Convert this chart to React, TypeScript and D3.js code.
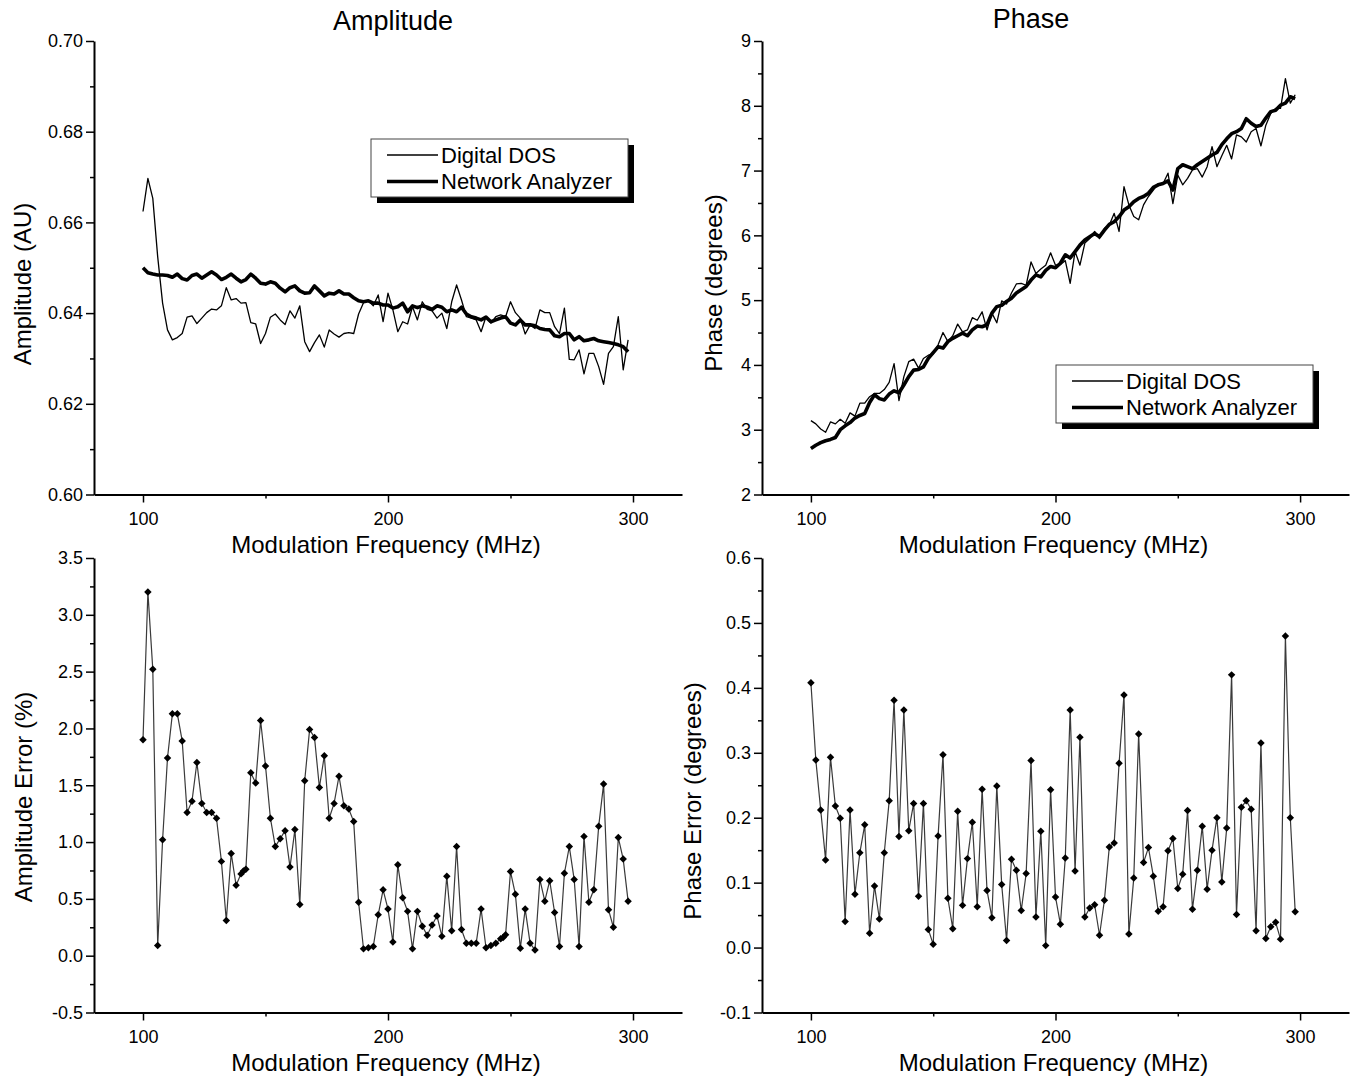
import React, { useEffect, useRef } from 'react';
import * as d3 from 'd3';

// modulation frequencies (MHz), 2 MHz grid
const freq = [
  100, 102, 104, 106, 108, 110, 112, 114, 116, 118, 120, 122, 124, 126, 128, 130, 132, 134, 136, 138,
  140, 142, 144, 146, 148, 150, 152, 154, 156, 158, 160, 162, 164, 166, 168, 170, 172, 174, 176, 178,
  180, 182, 184, 186, 188, 190, 192, 194, 196, 198, 200, 202, 204, 206, 208, 210, 212, 214, 216, 218,
  220, 222, 224, 226, 228, 230, 232, 234, 236, 238, 240, 242, 244, 246, 248, 250, 252, 254, 256, 258,
  260, 262, 264, 266, 268, 270, 272, 274, 276, 278, 280, 282, 284, 286, 288, 290, 292, 294, 296, 298,
];

const ampDos = [
  0.6624, 0.6697, 0.6653, 0.6524, 0.6422, 0.6363, 0.6341, 0.6346, 0.6355, 0.6391,
  0.6394, 0.6377, 0.6389, 0.6401, 0.6409, 0.6407, 0.6416, 0.6456, 0.6429, 0.6432,
  0.6422, 0.6423, 0.6379, 0.6376, 0.6333, 0.6355, 0.6391, 0.6398, 0.6385, 0.6375,
  0.6405, 0.6389, 0.6416, 0.6337, 0.6315, 0.6335, 0.6352, 0.6325, 0.6363, 0.6354,
  0.6347, 0.6355, 0.6357, 0.6355, 0.6398, 0.6423, 0.6427, 0.6416, 0.6440, 0.6381,
  0.6444, 0.6407, 0.6359, 0.6381, 0.6376, 0.6414, 0.6385, 0.6425, 0.6408, 0.6405,
  0.6389, 0.6400, 0.6366, 0.6425, 0.6462, 0.6429, 0.6392, 0.6389, 0.6385, 0.6359,
  0.6392, 0.6378, 0.6392, 0.6396, 0.6392, 0.6425, 0.6401, 0.6389, 0.6354, 0.6374,
  0.6366, 0.6407, 0.6401, 0.6401, 0.6370, 0.6355, 0.6411, 0.6298, 0.6297, 0.6319,
  0.6266, 0.6311, 0.6311, 0.6282, 0.6243, 0.6311, 0.6326, 0.6392, 0.6275, 0.6341,
];

const ampNa = [
  0.6500, 0.6489, 0.6486, 0.6484, 0.6484, 0.6483, 0.6479, 0.6486, 0.6476, 0.6473,
  0.6483, 0.6486, 0.6477, 0.6484, 0.6491, 0.6484, 0.6474, 0.6479, 0.6486, 0.6477,
  0.6469, 0.6474, 0.6486, 0.6477, 0.6466, 0.6464, 0.6469, 0.6466, 0.6455, 0.6447,
  0.6456, 0.6460, 0.6449, 0.6444, 0.6445, 0.6460, 0.6449, 0.6438, 0.6444, 0.6442,
  0.6449, 0.6442, 0.6442, 0.6434, 0.6427, 0.6425, 0.6427, 0.6422, 0.6422, 0.6418,
  0.6418, 0.6411, 0.6414, 0.6422, 0.6403, 0.6416, 0.6412, 0.6416, 0.6413, 0.6408,
  0.6416, 0.6413, 0.6403, 0.6407, 0.6403, 0.6413, 0.6398, 0.6392, 0.6389, 0.6385,
  0.6391, 0.6381, 0.6385, 0.6389, 0.6392, 0.6378, 0.6374, 0.6385, 0.6374, 0.6374,
  0.6372, 0.6366, 0.6364, 0.6363, 0.6350, 0.6348, 0.6355, 0.6355, 0.6341, 0.6348,
  0.6339, 0.6341, 0.6344, 0.6339, 0.6337, 0.6335, 0.6333, 0.6330, 0.6326, 0.6315,
];

const phaseDos = [
  3.14, 3.09, 3.01, 2.96, 3.12, 3.09, 3.16, 3.10, 3.26, 3.21,
  3.41, 3.41, 3.51, 3.56, 3.56, 3.62, 3.73, 4.02, 3.45, 3.82,
  4.05, 4.09, 3.95, 4.10, 4.15, 4.17, 4.31, 4.50, 4.36, 4.45,
  4.63, 4.51, 4.54, 4.73, 4.69, 4.82, 4.54, 4.80, 4.65, 4.99,
  4.94, 5.11, 5.25, 5.26, 5.23, 5.59, 5.41, 5.48, 5.54, 5.73,
  5.54, 5.55, 5.61, 5.26, 5.75, 5.54, 5.88, 5.95, 6.06, 5.95,
  6.11, 6.16, 6.34, 6.06, 6.75, 6.47, 6.29, 6.24, 6.47, 6.60,
  6.70, 6.80, 6.80, 6.96, 6.49, 6.93, 6.78, 6.88, 7.01, 7.03,
  6.90, 7.06, 7.37, 7.06, 7.23, 7.39, 7.18, 7.55, 7.52, 7.44,
  7.60, 7.65, 7.38, 7.70, 7.88, 7.96, 7.96, 8.42, 8.04, 8.17,
];

const phaseNa = [
  2.71, 2.76, 2.80, 2.83, 2.85, 2.88, 3.00, 3.06, 3.11, 3.18,
  3.22, 3.25, 3.42, 3.54, 3.48, 3.46, 3.55, 3.60, 3.57, 3.69,
  3.82, 3.92, 3.93, 3.97, 4.10, 4.19, 4.28, 4.26, 4.36, 4.41,
  4.45, 4.49, 4.45, 4.54, 4.60, 4.59, 4.62, 4.80, 4.90, 4.92,
  4.98, 5.03, 5.11, 5.16, 5.21, 5.31, 5.39, 5.36, 5.46, 5.52,
  5.50, 5.57, 5.70, 5.65, 5.75, 5.85, 5.93, 5.98, 6.03, 5.98,
  6.08, 6.17, 6.21, 6.29, 6.39, 6.44, 6.52, 6.57, 6.60, 6.65,
  6.74, 6.78, 6.80, 6.84, 6.70, 7.03, 7.09, 7.06, 7.03, 7.09,
  7.14, 7.19, 7.24, 7.28, 7.40, 7.49, 7.57, 7.60, 7.65, 7.80,
  7.73, 7.68, 7.70, 7.81, 7.91, 7.93, 8.01, 8.04, 8.14, 8.11,
];

// amplitude error has two extra readings (141, 247 MHz)
const ampErrFreq = [
  100, 102, 104, 106, 108, 110, 112, 114, 116, 118, 120, 122, 124, 126, 128, 130, 132, 134, 136, 138,
  140, 141, 142, 144, 146, 148, 150, 152, 154, 156, 158, 160, 162, 164, 166, 168, 170, 172, 174, 176, 178,
  180, 182, 184, 186, 188, 190, 192, 194, 196, 198, 200, 202, 204, 206, 208, 210, 212, 214, 216, 218,
  220, 222, 224, 226, 228, 230, 232, 234, 236, 238, 240, 242, 244, 246, 247, 248, 250, 252, 254, 256, 258,
  260, 262, 264, 266, 268, 270, 272, 274, 276, 278, 280, 282, 284, 286, 288, 290, 292, 294, 296, 298,
];

const ampErr = [
  1.90, 3.20, 2.52, 0.09, 1.02, 1.74, 2.13, 2.13, 1.89, 1.26, 1.36, 1.70, 1.34, 1.26, 1.26, 1.21, 0.83, 0.31, 0.90, 0.62,
  0.72, 0.745, 0.76, 1.61, 1.52, 2.07, 1.67, 1.21, 0.96, 1.03, 1.10, 0.78, 1.11, 0.45, 1.54, 1.99, 1.92, 1.48, 1.76, 1.21, 1.34,
  1.58, 1.32, 1.29, 1.18, 0.47, 0.06, 0.07, 0.08, 0.36, 0.58, 0.41, 0.12, 0.80, 0.51, 0.39, 0.06, 0.39, 0.26, 0.18, 0.27,
  0.35, 0.17, 0.70, 0.22, 0.96, 0.23, 0.11, 0.11, 0.11, 0.41, 0.07, 0.09, 0.11, 0.15, 0.16, 0.185, 0.74, 0.54, 0.065, 0.41, 0.11,
  0.05, 0.67, 0.48, 0.66, 0.38, 0.08, 0.725, 0.96, 0.67, 0.08, 1.05, 0.47, 0.58, 1.14, 1.51, 0.405, 0.25, 1.04, 0.85, 0.48,
];

const phaseErr = [
  0.408, 0.289, 0.212, 0.135, 0.293, 0.218, 0.199, 0.040, 0.212, 0.082,
  0.146, 0.189, 0.022, 0.095, 0.044, 0.146, 0.226, 0.381, 0.171, 0.366,
  0.180, 0.222, 0.079, 0.222, 0.028, 0.005, 0.172, 0.297, 0.076, 0.029,
  0.210, 0.065, 0.137, 0.193, 0.063, 0.244, 0.088, 0.046, 0.249, 0.097,
  0.011, 0.136, 0.119, 0.057, 0.114, 0.288, 0.047, 0.179, 0.003, 0.243,
  0.078, 0.036, 0.138, 0.366, 0.118, 0.324, 0.047, 0.061, 0.066, 0.019,
  0.073, 0.155, 0.161, 0.284, 0.389, 0.021, 0.107, 0.329, 0.131, 0.154,
  0.110, 0.056, 0.063, 0.149, 0.168, 0.091, 0.113, 0.211, 0.059, 0.119,
  0.187, 0.090, 0.150, 0.200, 0.101, 0.184, 0.420, 0.051, 0.216, 0.226,
  0.213, 0.026, 0.315, 0.014, 0.032, 0.039, 0.013, 0.480, 0.200, 0.055,
];

const xTicks = [100, 200, 300];
const xMinor = [150, 250];
const ampTicks = [0.6, 0.62, 0.64, 0.66, 0.68, 0.7];
const ampMinor = [0.61, 0.63, 0.65, 0.67, 0.69];
const phaseTicks = [2, 3, 4, 5, 6, 7, 8, 9];
const phaseMinor = [2.5, 3.5, 4.5, 5.5, 6.5, 7.5, 8.5];
const ampErrTicks = [-0.5, 0, 0.5, 1, 1.5, 2, 2.5, 3, 3.5];
const ampErrMinor = [-0.25, 0.25, 0.75, 1.25, 1.75, 2.25, 2.75, 3.25];
const phaseErrTicks = [-0.1, 0, 0.1, 0.2, 0.3, 0.4, 0.5, 0.6];
const phaseErrMinor = [-0.05, 0.05, 0.15, 0.25, 0.35, 0.45, 0.55];
const legendLabels = ['Digital DOS', 'Network Analyzer'];

const FONT = '"Liberation Sans", Arial, sans-serif';
const W = 1358;
const H = 1079;

export default function App() {
  const svgRef = useRef<SVGSVGElement>(null);

  useEffect(() => {
    if (!svgRef.current) return;
    document.body.style.margin = '0';

    const svg = d3.select(svgRef.current);
    svg.selectAll('*').remove();

    const xLeft = d3.scaleLinear().domain([80, 320]).range([94, 682]);
    const xRight = d3.scaleLinear().domain([80, 320]).range([762, 1349]);
    const topRange: [number, number] = [494.5, 41];
    const botRange: [number, number] = [1012.5, 558];

    const panels = [
      {
        x: xLeft, y: d3.scaleLinear().domain([0.6, 0.7]).range(topRange),
        ticks: ampTicks, minor: ampMinor, fmt: (d: number) => d.toFixed(2),
        yTitle: 'Amplitude (AU)', yTitlePos: [30.5, 284], xTitleY: 553,
        title: 'Amplitude', titlePos: [393, 30],
        lines: [ampDos, ampNa], legend: [371, 139],
      },
      {
        x: xRight, y: d3.scaleLinear().domain([2, 9]).range(topRange),
        ticks: phaseTicks, minor: phaseMinor, fmt: (d: number) => String(d),
        yTitle: 'Phase (degrees)', yTitlePos: [721.5, 283], xTitleY: 553,
        title: 'Phase', titlePos: [1031, 28],
        lines: [phaseDos, phaseNa], legend: [1056, 365],
      },
      {
        x: xLeft, y: d3.scaleLinear().domain([-0.5, 3.5]).range(botRange),
        ticks: ampErrTicks, minor: ampErrMinor, fmt: (d: number) => d.toFixed(1),
        yTitle: 'Amplitude Error (%)', yTitlePos: [31.5, 797], xTitleY: 1071,
        points: { xs: ampErrFreq, ys: ampErr },
      },
      {
        x: xRight, y: d3.scaleLinear().domain([-0.1, 0.6]).range(botRange),
        ticks: phaseErrTicks, minor: phaseErrMinor, fmt: (d: number) => d.toFixed(1),
        yTitle: 'Phase Error (degrees)', yTitlePos: [701, 801], xTitleY: 1071,
        points: { xs: freq, ys: phaseErr },
      },
    ];

    panels.forEach((p: any) => {
      const [x0] = p.x.range();
      const y0 = p.y.range()[0];
      const g = svg.append('g');

      // y axis
      const yAxis = g.append('g')
        .attr('transform', `translate(${x0},0)`)
        .call(d3.axisLeft(p.y).tickValues(p.ticks).tickSize(8).tickPadding(3).tickSizeOuter(0).tickFormat(p.fmt));
      g.append('g')
        .attr('transform', `translate(${x0},0)`)
        .call(d3.axisLeft(p.y).tickValues(p.minor).tickSize(4).tickFormat(() => ''))
        .select('.domain').remove();

      // x axis
      const xAxis = g.append('g')
        .attr('transform', `translate(0,${y0})`)
        .call(d3.axisBottom(p.x).tickValues(xTicks).tickSize(8).tickPadding(10).tickSizeOuter(0).tickFormat(d => String(d)));
      g.append('g')
        .attr('transform', `translate(0,${y0})`)
        .call(d3.axisBottom(p.x).tickValues(xMinor).tickSize(4).tickFormat(() => ''))
        .select('.domain').remove();

      g.selectAll('.domain').attr('stroke-width', 2).attr('stroke', '#000');
      g.selectAll('.tick line').attr('stroke-width', 1.5).attr('stroke', '#000');
      [yAxis, xAxis].forEach(a => a.selectAll('text')
        .attr('font-family', FONT).attr('font-size', 18).attr('fill', '#000'));

      g.append('text')
        .attr('transform', `translate(${p.yTitlePos[0]},${p.yTitlePos[1]}) rotate(-90)`)
        .attr('text-anchor', 'middle')
        .attr('font-family', FONT).attr('font-size', 24)
        .text(p.yTitle);

      g.append('text')
        .attr('x', (p.x(80) + p.x(320)) / 2 - 2)
        .attr('y', p.xTitleY)
        .attr('text-anchor', 'middle')
        .attr('font-family', FONT).attr('font-size', 24)
        .text('Modulation Frequency (MHz)');

      if (p.title) {
        g.append('text')
          .attr('x', p.titlePos[0]).attr('y', p.titlePos[1])
          .attr('text-anchor', 'middle')
          .attr('font-family', FONT).attr('font-size', 27)
          .text(p.title);
      }

      if (p.lines) {
        const widths = [1.3, 3.6];
        p.lines.forEach((vals: number[], k: number) => {
          const line = d3.line<number>()
            .x((_, i) => p.x(freq[i]))
            .y(d => p.y(d));
          g.append('path')
            .datum(vals)
            .attr('fill', 'none')
            .attr('stroke', '#000')
            .attr('stroke-width', widths[k])
            .attr('stroke-linejoin', 'round')
            .attr('d', line);
        });

        // legend with drop shadow
        const [lx, ly] = p.legend;
        const lw = 257;
        const lh = 58;
        const lg = g.append('g').attr('transform', `translate(${lx},${ly})`);
        lg.append('rect').attr('x', 6).attr('y', 6).attr('width', lw).attr('height', lh).attr('fill', '#000');
        lg.append('rect').attr('width', lw).attr('height', lh)
          .attr('fill', '#fff').attr('stroke', '#444').attr('stroke-width', 1);
        legendLabels.forEach((label, k) => {
          const ry = 16 + k * 26.5;
          lg.append('line')
            .attr('x1', 16).attr('x2', 67).attr('y1', ry).attr('y2', ry)
            .attr('stroke', '#000').attr('stroke-width', widths[k]);
          lg.append('text')
            .attr('x', 70).attr('y', ry + 7.5)
            .attr('font-family', FONT).attr('font-size', 22)
            .text(label);
        });
      }

      if (p.points) {
        const { xs, ys } = p.points;
        const idx = d3.range(ys.length);
        const line = d3.line<number>()
          .x(i => p.x(xs[i]))
          .y(i => p.y(ys[i]));
        g.append('path')
          .datum(idx)
          .attr('fill', 'none')
          .attr('stroke', '#3a3a3a')
          .attr('stroke-width', 1.2)
          .attr('d', line);
        const diamond = d3.symbol().type(d3.symbolSquare).size(28)();
        g.selectAll('path.pt')
          .data(idx)
          .join('path')
          .attr('class', 'pt')
          .attr('transform', i => `translate(${p.x(xs[i])},${p.y(ys[i])}) rotate(45)`)
          .attr('d', diamond)
          .attr('fill', '#000');
      }
    });
  }, []);

  return (
    <svg ref={svgRef} width={W} height={H} style={{ display: 'block', background: '#fff' }} />
  );
}
